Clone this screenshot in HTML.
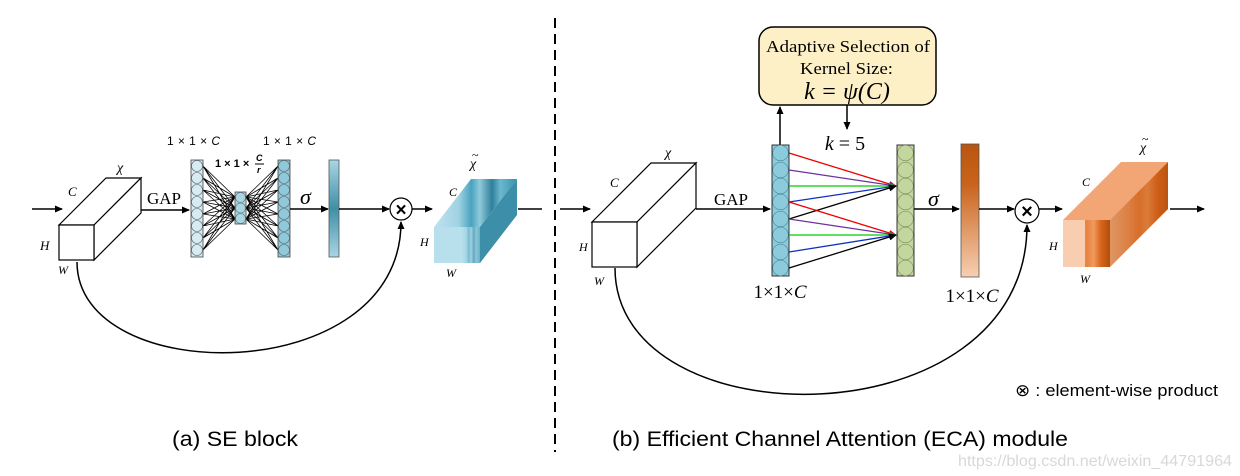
<!DOCTYPE html>
<html><head><meta charset="utf-8"><style>
html,body{margin:0;padding:0;background:#fff;}
svg{display:block}
.s{font-family:"Liberation Serif",serif;}
.i{font-family:"Liberation Serif",serif;font-style:italic;}
.a{font-family:"Liberation Sans",sans-serif;}
</style></head><body>
<svg width="1240" height="476" viewBox="0 0 1240 476" xmlns="http://www.w3.org/2000/svg">
<defs>
<marker id="ar" markerWidth="8" markerHeight="8" refX="7" refY="4" orient="auto" markerUnits="userSpaceOnUse"><path d="M0,0.5 L8,4 L0,7.5 z" fill="#000"/></marker>
<marker id="arr" markerWidth="8" markerHeight="8" refX="7" refY="4" orient="auto" markerUnits="userSpaceOnUse"><path d="M0,1 L8,4 L0,7 z" fill="#e00"/></marker>
<marker id="arp" markerWidth="8" markerHeight="8" refX="7" refY="4" orient="auto" markerUnits="userSpaceOnUse"><path d="M0,1 L8,4 L0,7 z" fill="#7030a0"/></marker>
<marker id="arg" markerWidth="8" markerHeight="8" refX="7" refY="4" orient="auto" markerUnits="userSpaceOnUse"><path d="M0,1 L8,4 L0,7 z" fill="#0c0"/></marker>
<marker id="arb" markerWidth="8" markerHeight="8" refX="7" refY="4" orient="auto" markerUnits="userSpaceOnUse"><path d="M0,1 L8,4 L0,7 z" fill="#1030c0"/></marker>
<linearGradient id="sebar" x1="0" y1="0" x2="0" y2="1">
<stop offset="0" stop-color="#a9d6e3"/><stop offset="0.5" stop-color="#3f8fa8"/><stop offset="1" stop-color="#a9d6e3"/></linearGradient>
<linearGradient id="ecabar" x1="0" y1="0" x2="0" y2="1">
<stop offset="0" stop-color="#b9550f"/><stop offset="0.3" stop-color="#c9631c"/><stop offset="1" stop-color="#f7cfb2"/></linearGradient>
<linearGradient id="bst" x1="0" y1="0" x2="1" y2="0">
<stop offset="0" stop-color="#bfe3ee"/><stop offset="0.3" stop-color="#9fd2e2"/><stop offset="0.45" stop-color="#4aa3bf"/><stop offset="0.55" stop-color="#8fcadb"/><stop offset="0.7" stop-color="#2f7f9c"/><stop offset="0.8" stop-color="#6bb8cf"/><stop offset="1" stop-color="#3a8fab"/></linearGradient>
<linearGradient id="ost" x1="0" y1="0" x2="1" y2="0">
<stop offset="0" stop-color="#f8cfb0"/><stop offset="0.3" stop-color="#f2a878"/><stop offset="0.5" stop-color="#e8823f"/><stop offset="0.65" stop-color="#f09a5e"/><stop offset="0.8" stop-color="#d9661c"/><stop offset="1" stop-color="#b04d0c"/></linearGradient>
</defs>

<line x1="555" y1="18" x2="555" y2="452" stroke="#000" stroke-width="2" stroke-dasharray="10,6"/>

<!-- ===== SE block ===== -->
<line x1="32" y1="209" x2="62" y2="209" stroke="#000" stroke-width="1.5" marker-end="url(#ar)"/>
<g fill="#fff" stroke="#000" stroke-width="1.2">
<polygon points="59,225 106,178 141,178 94,225"/>
<polygon points="94,225 141,178 141,213 94,260"/>
<rect x="59" y="225" width="35" height="35"/>
</g>
<text class="i" x="117" y="172" font-size="14">χ</text>
<text class="i" x="68" y="196" font-size="13">C</text>
<text class="i" x="40" y="250" font-size="13">H</text>
<text class="i" x="58" y="274" font-size="12">W</text>
<text class="s" x="147" y="204" font-size="17">GAP</text>
<line x1="141" y1="210" x2="189" y2="210" stroke="#000" stroke-width="1.5" marker-end="url(#ar)"/>

<path stroke="#000" stroke-width="0.8" fill="none" d="
M203,166L235,197M203,166L235,208M203,166L235,219
M203,178L235,197M203,178L235,208M203,178L235,219
M203,190L235,197M203,190L235,208M203,190L235,219
M203,202L235,197M203,202L235,208M203,202L235,219
M203,214L235,197M203,214L235,208M203,214L235,219
M203,226L235,197M203,226L235,208M203,226L235,219
M203,238L235,197M203,238L235,208M203,238L235,219
M203,250L235,197M203,250L235,208M203,250L235,219
M246,197L278,166M246,208L278,166M246,219L278,166
M246,197L278,178M246,208L278,178M246,219L278,178
M246,197L278,190M246,208L278,190M246,219L278,190
M246,197L278,202M246,208L278,202M246,219L278,202
M246,197L278,214M246,208L278,214M246,219L278,214
M246,197L278,226M246,208L278,226M246,219L278,226
M246,197L278,238M246,208L278,238M246,219L278,238
M246,197L278,250M246,208L278,250M246,219L278,250"/>
<g stroke="#444" stroke-width="0.8">
<rect x="191" y="160" width="12" height="97" fill="#d6ecf3"/>
<rect x="235" y="192" width="11" height="32" fill="#a9d6e3"/>
<rect x="278" y="160" width="12" height="97" fill="#8ecadb"/>
</g>
<g stroke="#666" stroke-width="0.6" fill="#d6ecf3">
<circle cx="197" cy="166" r="5.5"/><circle cx="197" cy="178" r="5.5"/><circle cx="197" cy="190" r="5.5"/><circle cx="197" cy="202" r="5.5"/><circle cx="197" cy="214" r="5.5"/><circle cx="197" cy="226" r="5.5"/><circle cx="197" cy="238" r="5.5"/><circle cx="197" cy="250" r="5.5"/>
</g>
<g stroke="#666" stroke-width="0.6" fill="#a9d6e3">
<circle cx="240.5" cy="197.5" r="5"/><circle cx="240.5" cy="208" r="5"/><circle cx="240.5" cy="218.5" r="5"/>
</g>
<g stroke="#666" stroke-width="0.6" fill="#8ecadb">
<circle cx="284" cy="166" r="5.5"/><circle cx="284" cy="178" r="5.5"/><circle cx="284" cy="190" r="5.5"/><circle cx="284" cy="202" r="5.5"/><circle cx="284" cy="214" r="5.5"/><circle cx="284" cy="226" r="5.5"/><circle cx="284" cy="238" r="5.5"/><circle cx="284" cy="250" r="5.5"/>
</g>
<text class="a" x="167" y="145" font-size="12" textLength="53">1 × 1 × <tspan font-style="italic">C</tspan></text>
<text class="a" x="263" y="145" font-size="12" textLength="53">1 × 1 × <tspan font-style="italic">C</tspan></text>
<text class="a" x="215" y="167" font-size="11" font-weight="bold">1 × 1 ×</text>
<text class="a" x="256" y="161" font-size="9" font-weight="bold" font-style="italic">C</text>
<line x1="255" y1="164" x2="264" y2="164" stroke="#000" stroke-width="1"/>
<text class="a" x="257" y="173" font-size="9" font-weight="bold" font-style="italic">r</text>

<text class="i" x="300" y="204" font-size="22">σ</text>
<line x1="290" y1="209" x2="328" y2="209" stroke="#000" stroke-width="1.5" marker-end="url(#ar)"/>
<rect x="329" y="160" width="10" height="97" fill="url(#sebar)" stroke="#555" stroke-width="0.8"/>
<line x1="339" y1="209" x2="389" y2="209" stroke="#000" stroke-width="1.5" marker-end="url(#ar)"/>
<circle cx="401" cy="209" r="11" fill="#fff" stroke="#000" stroke-width="1.2"/>
<text class="a" x="401" y="216" font-size="19" font-weight="bold" text-anchor="middle">×</text>
<line x1="412" y1="209" x2="432" y2="209" stroke="#000" stroke-width="1.5" marker-end="url(#ar)"/>
<path d="M77,262 C77,389 401,389 401,222" fill="none" stroke="#000" stroke-width="1.5" marker-end="url(#ar)"/>
<polygon points="434,227 471,179 517,179 480,227" fill="url(#bst)"/>
<polygon points="480,227 517,179 517,215 480,263" fill="#3d8ea9"/>
<rect x="434" y="227" width="46" height="36" fill="#b8e0ec"/>
<rect x="460" y="227" width="20" height="36" fill="url(#bst)" opacity="0.6"/>
<text class="i" x="470" y="168" font-size="14">χ</text>
<text class="s" x="472" y="159" font-size="12">~</text>
<text class="i" x="449" y="196" font-size="12">C</text>
<text class="i" x="420" y="246" font-size="12">H</text>
<text class="i" x="446" y="277" font-size="12">W</text>
<line x1="518" y1="209" x2="542" y2="209" stroke="#000" stroke-width="1.5"/>

<!-- ===== ECA ===== -->
<line x1="560" y1="209" x2="590" y2="209" stroke="#000" stroke-width="1.5" marker-end="url(#ar)"/>
<g fill="#fff" stroke="#000" stroke-width="1.2">
<polygon points="592,222 651,163 696,163 637,222"/>
<polygon points="637,222 696,163 696,208 637,267"/>
<rect x="592" y="222" width="45" height="45"/>
</g>
<text class="i" x="665" y="157" font-size="14">χ</text>
<text class="i" x="610" y="187" font-size="13">C</text>
<text class="i" x="579" y="251" font-size="12">H</text>
<text class="i" x="594" y="285" font-size="12">W</text>
<text class="s" x="714" y="205" font-size="17">GAP</text>
<line x1="696" y1="209" x2="770" y2="209" stroke="#000" stroke-width="1.5" marker-end="url(#ar)"/>

<rect x="759" y="27" width="177" height="78" rx="14" fill="#fdf0c6" stroke="#000" stroke-width="1.5"/>
<text class="s" x="766" y="52" font-size="17" textLength="164" lengthAdjust="spacingAndGlyphs">Adaptive Selection of</text>
<text class="s" x="800" y="74" font-size="17" textLength="93" lengthAdjust="spacingAndGlyphs">Kernel Size:</text>
<text class="i" x="847" y="99" font-size="24" text-anchor="middle">k = ψ(C)</text>
<line x1="780" y1="145" x2="780" y2="107" stroke="#000" stroke-width="1.5" marker-end="url(#ar)"/>
<line x1="847" y1="105" x2="847" y2="129" stroke="#000" stroke-width="1.5" marker-end="url(#ar)"/>
<text class="i" x="845" y="150" font-size="20" text-anchor="middle">k <tspan font-style="normal">= 5</tspan></text>

<rect x="772" y="145" width="17" height="131" fill="#8ccbdb" stroke="#333" stroke-width="1"/>
<g fill="#8ccbdb" stroke="#4a8ea0" stroke-width="0.6">
<circle cx="780.5" cy="153" r="7.8"/><circle cx="780.5" cy="170" r="7.8"/><circle cx="780.5" cy="186" r="7.8"/><circle cx="780.5" cy="202" r="7.8"/><circle cx="780.5" cy="219" r="7.8"/><circle cx="780.5" cy="235" r="7.8"/><circle cx="780.5" cy="252" r="7.8"/><circle cx="780.5" cy="268" r="7.8"/>
</g>
<rect x="897" y="145" width="17" height="131" fill="#c4d69f" stroke="#333" stroke-width="1"/>
<g fill="#c4d69f" stroke="#7c9456" stroke-width="0.6">
<circle cx="905.5" cy="153" r="7.8"/><circle cx="905.5" cy="170" r="7.8"/><circle cx="905.5" cy="186" r="7.8"/><circle cx="905.5" cy="202" r="7.8"/><circle cx="905.5" cy="219" r="7.8"/><circle cx="905.5" cy="235" r="7.8"/><circle cx="905.5" cy="252" r="7.8"/><circle cx="905.5" cy="268" r="7.8"/>
</g>
<g stroke-width="1.3" fill="none">
<line x1="789" y1="153" x2="896" y2="186" stroke="#e00" marker-end="url(#arr)"/>
<line x1="789" y1="170" x2="896" y2="186" stroke="#7030a0" marker-end="url(#arp)"/>
<line x1="789" y1="186" x2="896" y2="186" stroke="#0c0" marker-end="url(#arg)"/>
<line x1="789" y1="202" x2="896" y2="186" stroke="#1030c0" marker-end="url(#arb)"/>
<line x1="789" y1="219" x2="896" y2="186" stroke="#000" marker-end="url(#ar)"/>
<line x1="789" y1="202" x2="896" y2="235" stroke="#e00" marker-end="url(#arr)"/>
<line x1="789" y1="219" x2="896" y2="235" stroke="#7030a0" marker-end="url(#arp)"/>
<line x1="789" y1="235" x2="896" y2="235" stroke="#0c0" marker-end="url(#arg)"/>
<line x1="789" y1="252" x2="896" y2="235" stroke="#1030c0" marker-end="url(#arb)"/>
<line x1="789" y1="268" x2="896" y2="235" stroke="#000" marker-end="url(#ar)"/>
</g>
<text class="s" x="780" y="298" font-size="19" text-anchor="middle">1×1×<tspan font-style="italic">C</tspan></text>

<text class="i" x="928" y="206" font-size="22">σ</text>
<line x1="914" y1="209" x2="959" y2="209" stroke="#000" stroke-width="1.5" marker-end="url(#ar)"/>
<rect x="961" y="144" width="18" height="133" fill="url(#ecabar)" stroke="#555" stroke-width="0.8"/>
<text class="s" x="972" y="302" font-size="19" text-anchor="middle">1×1×<tspan font-style="italic">C</tspan></text>
<line x1="979" y1="209" x2="1014" y2="209" stroke="#000" stroke-width="1.5" marker-end="url(#ar)"/>
<circle cx="1027" cy="211" r="12" fill="#fff" stroke="#000" stroke-width="1.2"/>
<text class="a" x="1027" y="218" font-size="20" font-weight="bold" text-anchor="middle">×</text>
<line x1="1039" y1="209" x2="1062" y2="209" stroke="#000" stroke-width="1.5" marker-end="url(#ar)"/>
<path d="M615,268 C615,443 1027,443 1027,225" fill="none" stroke="#000" stroke-width="1.5" marker-end="url(#ar)"/>
<polygon points="1063,220 1121,162 1168,162 1110,220" fill="#f2a575"/>
<polygon points="1110,220 1168,162 1168,209 1110,267" fill="#c65b15"/>
<polygon points="1110,220 1168,162 1168,209 1110,267" fill="url(#ost)" opacity="0.5"/>
<rect x="1063" y="220" width="47" height="47" fill="url(#ost)"/>
<rect x="1063" y="220" width="22" height="47" fill="#f8cdb0"/>
<text class="i" x="1140" y="152" font-size="14">χ</text>
<text class="s" x="1142" y="143" font-size="12">~</text>
<text class="i" x="1082" y="186" font-size="12">C</text>
<text class="i" x="1049" y="250" font-size="12">H</text>
<text class="i" x="1080" y="283" font-size="12">W</text>
<line x1="1170" y1="209" x2="1204" y2="209" stroke="#000" stroke-width="1.5" marker-end="url(#ar)"/>

<text class="a" x="1015" y="396" font-size="17" textLength="203" lengthAdjust="spacingAndGlyphs">⊗ : element-wise product</text>
<text class="a" x="172" y="446" font-size="21" textLength="126" lengthAdjust="spacingAndGlyphs">(a) SE block</text>
<text class="a" x="612" y="446" font-size="21" textLength="456" lengthAdjust="spacingAndGlyphs">(b) Efficient Channel Attention (ECA) module</text>
<text class="a" x="958" y="466" font-size="16" fill="#d8d8d8" textLength="274" lengthAdjust="spacingAndGlyphs">https://blog.csdn.net/weixin_44791964</text>
</svg>
</body></html>
